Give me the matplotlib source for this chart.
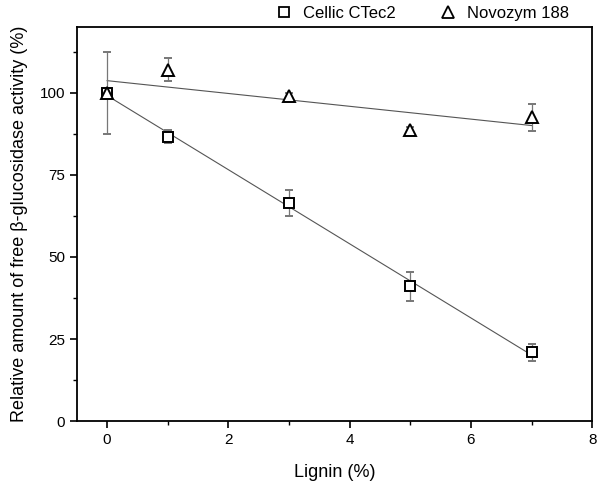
import numpy as np
import matplotlib.pyplot as plt
from matplotlib.ticker import MultipleLocator

plt.rcParams['font.family'] = ['Liberation Sans', 'DejaVu Sans']

# Lignin-Gehalt (%)
lignin = [0, 1, 3, 5, 7]

# Cellic CTec2
cellic = [100, 86.6, 66.5, 41.0, 21.0]
cellic_err = [1.0, 2.0, 4.0, 4.4, 2.6]

# Novozym 188
novozym = [100, 107.0, 99.0, 88.7, 92.5]
novozym_err = [12.5, 3.5, 1.0, 1.0, 4.0]

fig = plt.figure(figsize=(6, 4.84), dpi=100)
ax = fig.add_axes([0.128, 0.130, 0.859, 0.814])

# lineare Fits
xs = np.array([0, 7])
for y in (cellic, novozym):
    k, d = np.polyfit(lignin, y, 1)
    ax.plot(xs, k * xs + d, color='#555555', lw=0.8, zorder=1)

ax.errorbar(lignin, cellic, yerr=cellic_err, fmt='s', ms=7, mfc='white',
            mec='black', mew=1.4, ecolor='#777777', elinewidth=0.9, capsize=3,
            label='Cellic CTec2', zorder=3)
ax.errorbar(lignin, novozym, yerr=novozym_err, fmt='^', ms=8.5, mfc='white',
            mec='black', mew=1.4, ecolor='#777777', elinewidth=0.9, capsize=3,
            label='Novozym 188', zorder=3)

ax.set_xlim(-0.5, 8)
ax.set_ylim(0, 120)
ax.set_xticks([0, 2, 4, 6, 8])
ax.set_yticks([0, 25, 50, 75, 100])
ax.xaxis.set_minor_locator(MultipleLocator(1))
ax.yaxis.set_minor_locator(MultipleLocator(12.5))
ax.tick_params(which='major', direction='out', length=5, width=1.2, labelsize=11)
ax.tick_params(which='minor', direction='out', length=3, width=1)
for s in ax.spines.values():
    s.set_linewidth(1.3)

ax.set_xlabel('Lignin (%)', fontsize=13, labelpad=12)
ax.set_ylabel('Relative amount of free β-glucosidase activity (%)', fontsize=13, labelpad=8)

handles, labels = ax.get_legend_handles_labels()
handles = [h[0] for h in handles]
leg = ax.legend(handles, labels, loc='lower right', bbox_to_anchor=(0.966, 1.0), ncol=2,
                frameon=False, fontsize=12, handlelength=1.2, handletextpad=0.55,
                columnspacing=2.5, borderaxespad=0, borderpad=0.35, markerscale=0.95)
for h in leg.legend_handles:
    h.set_markeredgewidth(1.3)

fig.savefig('out.png', dpi=100)
